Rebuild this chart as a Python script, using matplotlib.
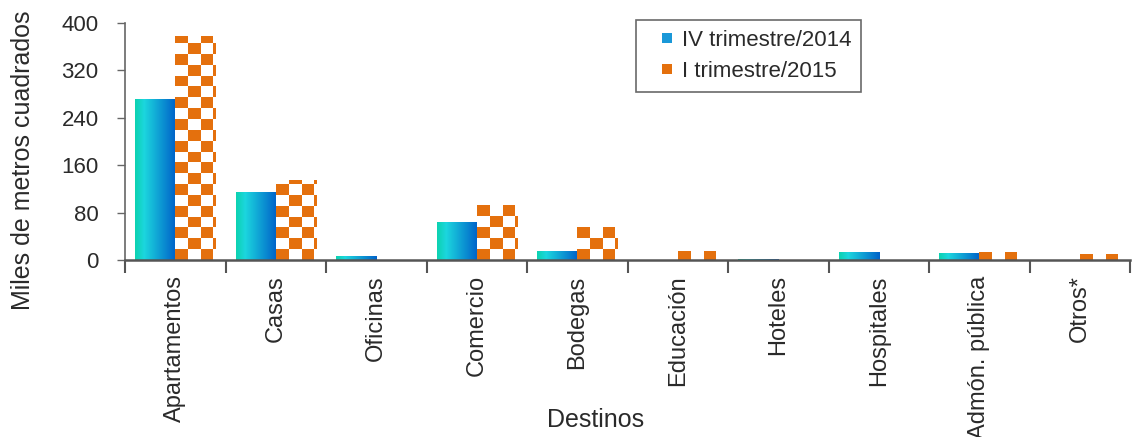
import matplotlib
matplotlib.use('Agg')

import numpy as np
import matplotlib.pyplot as plt
from matplotlib.colors import LinearSegmentedColormap
from matplotlib.lines import Line2D

# ===================== 数据 =====================
categorias = ['Apartamentos', 'Casas', 'Oficinas', 'Comercio', 'Bodegas',
              'Educación', 'Hoteles', 'Hospitales', 'Admón. pública', 'Otros*']
iv_2014 = [272, 115, 7, 64, 15, 0, 1, 14, 12, 0]
i_2015 = [378, 135, 0, 93, 56, 15, 0, 0, 13, 10]
serie_labels = ['IV trimestre/2014', 'I trimestre/2015']
y_ticks = [0, 80, 160, 240, 320, 400]

# ===================== 样式 =====================
plt.rcParams['font.family'] = ['Liberation Sans', 'DejaVu Sans']
ORANGE = '#E4700D'
GRAD = LinearSegmentedColormap.from_list(
    'grad', [(0.0, '#0CD2B0'), (0.22, '#1CD6DE'), (1.0, '#0062C9')])
TXT = '#2a2a2a'
BAR_W = 0.4
CHK_X = 0.125   # checker square width (data units)
CHK_Y = 18.3    # checker square height (data units)

fig = plt.figure(figsize=(11.41, 4.37), dpi=100)
ax = fig.add_axes([125 / 1141, 1 - 260 / 437, 1005 / 1141, 237 / 437])

x = np.arange(len(categorias))

# ── 渐变柱 ──
grad_img = np.linspace(0, 1, 64).reshape(1, -1)
for xi, v in zip(x, iv_2014):
    bar = ax.bar(xi - BAR_W / 2, v, width=BAR_W, color='none', lw=0, zorder=2)[0]
    if v <= 0:
        continue
    im = ax.imshow(grad_img, cmap=GRAD, aspect='auto', interpolation='bilinear',
                   extent=(xi - BAR_W, xi, 0, v), zorder=2)
    im.set_clip_path(bar)

# ── 棋盘格柱 ──
for xi, v in zip(x, i_2015):
    bar = ax.bar(xi + BAR_W / 2, v, width=BAR_W, color='white', lw=0, zorder=2)[0]
    if v <= 0:
        continue
    ncol = int(np.ceil(BAR_W / CHK_X))
    nrow = int(np.ceil(v / CHK_Y))
    rr, cc = np.meshgrid(np.arange(nrow), np.arange(ncol), indexing='ij')
    mask = ((rr + cc) % 2 == 0)
    rgb = np.ones((nrow, ncol, 3))
    rgb[mask] = matplotlib.colors.to_rgb(ORANGE)
    im = ax.imshow(rgb[::-1], aspect='auto', interpolation='nearest',
                   extent=(xi, xi + ncol * CHK_X, 0, nrow * CHK_Y), zorder=2)
    im.set_clip_path(bar)

ax.set_xlim(-0.5, len(categorias) - 0.5)
ax.set_ylim(0, 400)

# ── 坐标轴 ──
for s in ['top', 'right']:
    ax.spines[s].set_visible(False)
ax.spines['left'].set_color('#666666')
ax.spines['left'].set_linewidth(1.2)
ax.spines['bottom'].set_color('#555555')
ax.spines['bottom'].set_linewidth(1.8)
ax.spines['bottom'].set_zorder(5)

ax.set_yticks(y_ticks)
ax.tick_params(axis='y', direction='out', length=6, width=1, color='#666666',
               labelsize=16, labelcolor=TXT, pad=13)
ax.set_xticks(x)
ax.set_xticklabels(categorias, rotation=90, fontsize=17, color=TXT)
ax.tick_params(axis='x', which='major', length=0, pad=11)
ax.set_xticks(np.arange(len(categorias) + 1) - 0.5, minor=True)
ax.tick_params(axis='x', which='minor', direction='out', length=9, width=1.5,
               color='#555555')

ax.set_ylabel('Miles de metros cuadrados', fontsize=18, color=TXT)
ax.yaxis.set_label_coords(-0.0896, 0.422)
ax.set_xlabel('Destinos', fontsize=18, color=TXT, va='top')
ax.xaxis.set_label_coords(0.468, -0.624)

# ── 图例 ──
handles = [Line2D([], [], ls='none', marker='s', ms=7, mew=0, color='#1A98D8',
                  label=serie_labels[0]),
           Line2D([], [], ls='none', marker='s', ms=7, mew=0, color=ORANGE,
                  label=serie_labels[1])]
leg = ax.legend(handles=handles, loc='upper left',
                bbox_to_anchor=(636 / 1141, 1 - 20 / 437), bbox_transform=fig.transFigure,
                fontsize=16, frameon=True, fancybox=False, borderaxespad=0,
                handlelength=1.9, handletextpad=-0.3,
                labelspacing=0.45, borderpad=0.45, labelcolor=TXT)
leg.get_frame().set_edgecolor('#444444')
leg.get_frame().set_linewidth(1.2)

fig.savefig('out.png', dpi=100, facecolor='white')
